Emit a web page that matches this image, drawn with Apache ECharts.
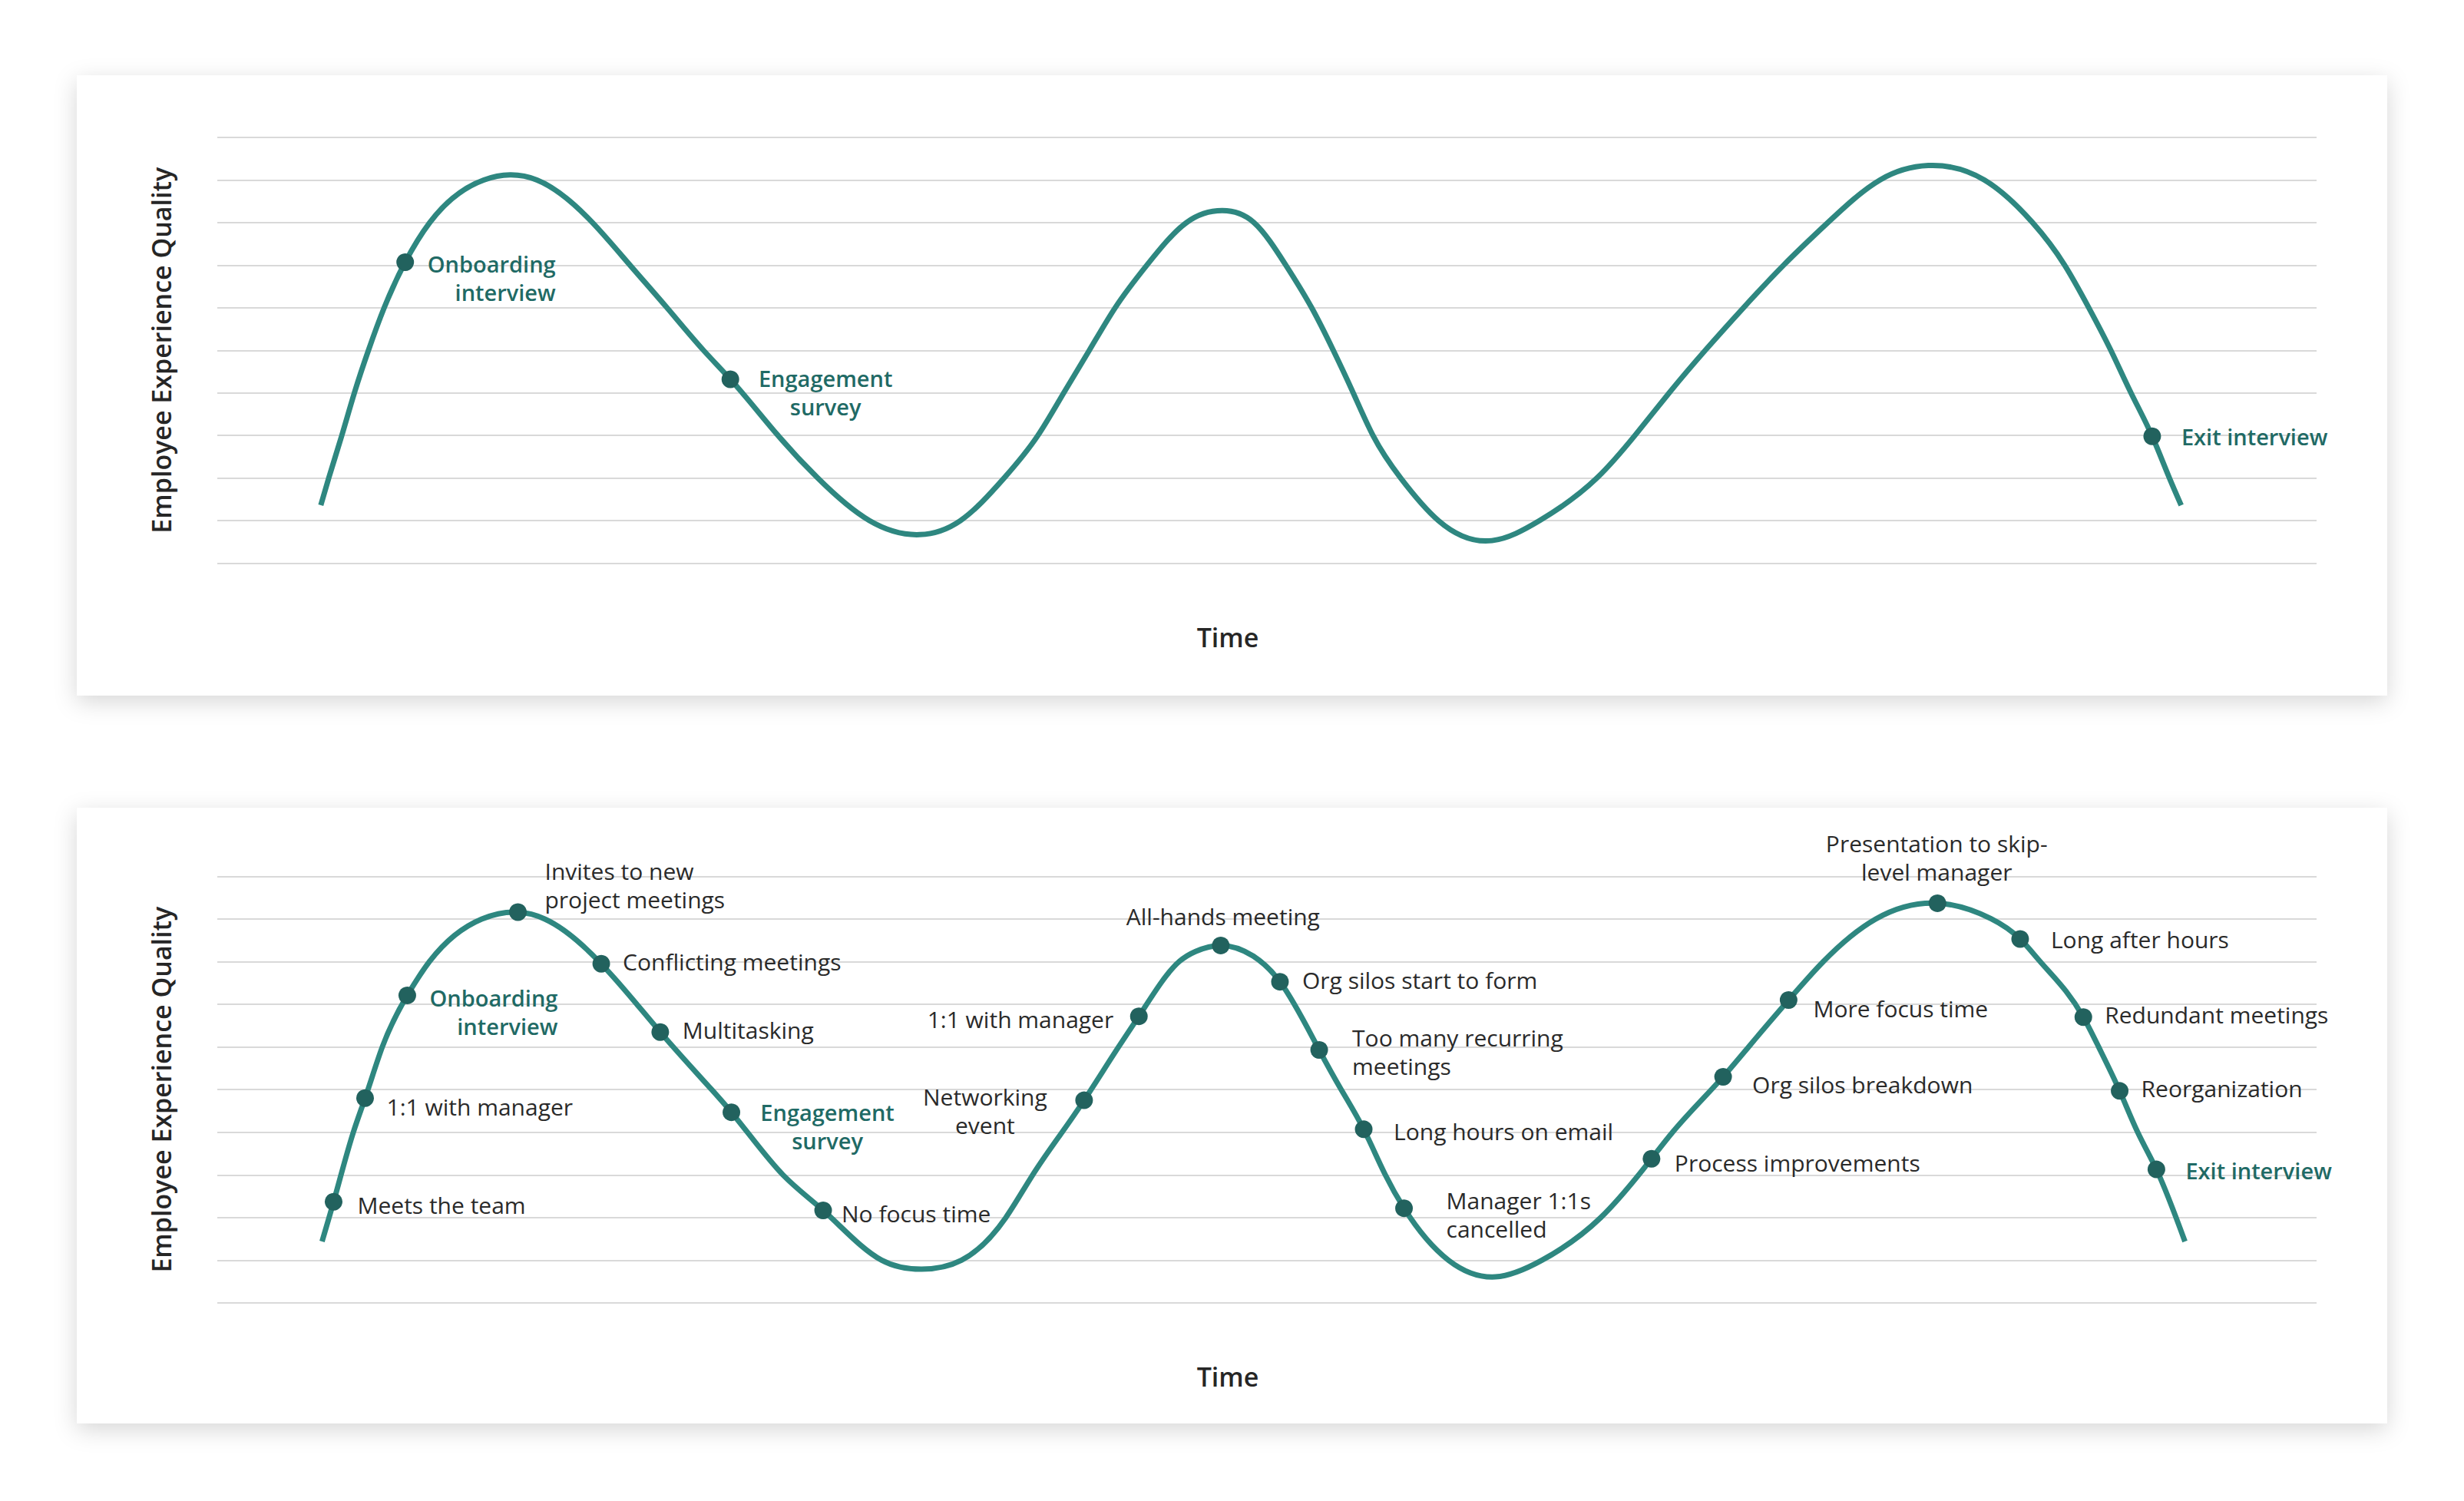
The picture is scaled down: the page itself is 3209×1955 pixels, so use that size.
<!DOCTYPE html>
<html>
<head>
<meta charset="utf-8">
<script src="https://cdn.jsdelivr.net/npm/echarts@6/dist/echarts.min.js"></script>
<style>
html,body{margin:0;padding:0;background:#ffffff;}
#chart{width:3209px;height:1955px;}
</style>
</head>
<body>
<div id="chart"></div>
<script>
// ---------------- DATA ----------------
// Top chart: curve (time 0-100, quality 0-10)
const topCurveX = [4.93,5.31,5.93,6.53,7.20,7.95,8.95,10.12,12.69,13.94,15.23,17.87,19.66,21.42,23.16,24.44,25.01,26.71,28.60,31.06,33.46,35.40,37.48,39.09,40.32,41.54,42.77,44.28,46.17,47.87,49.38,50.90,52.13,53.16,54.11,55.05,56.37,58.17,60.72,62.99,65.72,67.53,69.16,70.88,72.70,74.61,76.72,79.20,81.50,84.18,86.47,88.00,89.15,90.20,91.16,92.17,92.99,93.55];
const topCurveY = [1.36,2.00,3.00,4.00,5.00,6.00,7.07,8.00,9.00,9.12,9.00,8.00,7.00,6.00,5.00,4.32,4.00,3.00,2.00,1.00,0.67,1.00,2.00,3.00,4.00,5.00,6.00,7.00,8.00,8.28,8.00,7.00,6.00,5.00,4.00,3.00,2.00,1.00,0.53,1.00,2.00,3.00,4.00,5.00,6.00,7.00,8.00,9.00,9.34,9.00,8.00,7.00,6.00,5.00,4.00,2.98,2.00,1.36];
const topEventNames = ['Onboarding\ninterview','Engagement\nsurvey','Exit interview'];
const topEventX = [8.95,24.44,92.17];
const topEventY = [7.07,4.32,2.98];
const topEventKey = [true,true,true];

// Bottom chart: curve
const bottomCurveX = [4.99,5.54,6.48,7.04,7.86,9.05,10.12,12.60,14.32,15.60,18.29,19.97,21.10,23.55,24.49,26.95,28.86,31.65,33.56,35.45,37.56,38.84,40.24,41.29,42.93,43.90,45.84,46.60,47.80,49.35,50.62,52.49,53.54,54.61,55.64,56.53,58.65,60.88,63.10,65.90,68.32,69.32,71.73,72.94,74.85,76.50,79.00,81.94,84.48,85.88,86.82,88.89,89.62,90.62,91.48,92.37,93.73];
const bottomCurveY = [1.44,2.37,4.00,4.80,6.00,7.21,8.01,9.00,9.16,9.00,7.95,7.01,6.35,5.00,4.47,3.00,2.17,1.00,0.79,1.00,2.00,3.00,4.00,4.75,6.00,6.72,8.01,8.24,8.38,8.13,7.53,5.93,5.00,4.07,3.00,2.22,1.00,0.61,1.00,2.00,3.38,4.00,5.30,6.00,7.10,8.00,9.00,9.37,9.01,8.53,8.01,6.70,6.00,4.97,4.00,3.13,1.44];
const bottomEventNames = ['Meets the team','1:1 with manager','Onboarding\ninterview','Invites to new\nproject meetings','Conflicting meetings','Multitasking','Engagement\nsurvey','No focus time','Networking\nevent','1:1 with manager','All-hands meeting','Org silos start to form','Too many recurring\nmeetings','Long hours on email','Manager 1:1s\ncancelled','Process improvements','Org silos breakdown','More focus time','Presentation to skip-\nlevel manager','Long after hours','Redundant meetings','Reorganization','Exit interview'];
const bottomEventX = [5.54,7.04,9.05,14.32,18.29,21.10,24.49,28.86,41.29,43.90,47.80,50.62,52.49,54.61,56.53,68.32,71.73,74.85,81.94,85.88,88.89,90.62,92.37];
const bottomEventY = [2.37,4.80,7.21,9.16,7.95,6.35,4.47,2.17,4.75,6.72,8.38,7.53,5.93,4.07,2.22,3.38,5.30,7.10,9.37,8.53,6.70,4.97,3.13];
const bottomEventKey = [false,false,true,false,false,false,true,false,false,false,false,false,false,false,false,false,false,false,false,false,false,false,true];

const yAxisTitle = 'Employee Experience Quality';
const xAxisTitle = 'Time';

// ---------------- STYLE (label placement relative to each dot) ----------------
const topLabelPlace = [
  {dx:196, dy:21, align:'right'},
  {dx:124, dy:17, align:'center'},
  {dx:38, dy:0, align:'left'}
];
const bottomLabelPlace = [
  {dx:31, dy:4, align:'left'},
  {dx:28, dy:11, align:'left'},
  {dx:196, dy:22, align:'right'},
  {dx:35, dy:-35, align:'left'},
  {dx:28, dy:-3, align:'left'},
  {dx:29, dy:-3, align:'left'},
  {dx:125, dy:18, align:'center'},
  {dx:24, dy:4, align:'left'},
  {dx:-129, dy:14, align:'center'},
  {dx:-33, dy:4, align:'right'},
  {dx:3, dy:-38, align:'center'},
  {dx:29, dy:-2, align:'left'},
  {dx:43, dy:2, align:'left'},
  {dx:39, dy:3, align:'left'},
  {dx:55, dy:8, align:'left'},
  {dx:30, dy:5, align:'left'},
  {dx:38, dy:10, align:'left'},
  {dx:32, dy:11, align:'left'},
  {dx:-1, dy:-59, align:'center'},
  {dx:40, dy:0, align:'left'},
  {dx:28, dy:-3, align:'left'},
  {dx:28, dy:-3, align:'left'},
  {dx:38, dy:1, align:'left'}
];

const FONT = '"Open Sans", "Noto Sans", "DejaVu Sans", sans-serif';
const LINE_COLOR = '#2e8780';
const DOT_COLOR = '#22625e';
const KEY_TEXT = '#1f6a65';
const TEXT = '#2a2a2a';
const GRID_COLOR = '#d9d9d9';

function zip(xs, ys){ return xs.map((x,i)=>[x, ys[i]]); }

// Natural cubic spline (y as a function of x) through pixel points given by api.coord,
// emitted as exact cubic Bezier segments.
function splinePath(p){
  const n = p.length;
  const X = p.map(q=>q[0]), Y = p.map(q=>q[1]);
  const h = [];
  for (let i = 0; i < n-1; i++) h.push(X[i+1]-X[i]);
  const M = new Array(n).fill(0);
  if (n > 2){
    const m = n-2, a = [], b = [], c = [], r = [];
    for (let i = 1; i <= m; i++){
      a.push(h[i-1]); b.push(2*(h[i-1]+h[i])); c.push(h[i]);
      r.push(6*((Y[i+1]-Y[i])/h[i] - (Y[i]-Y[i-1])/h[i-1]));
    }
    for (let i = 1; i < m; i++){ const w = a[i]/b[i-1]; b[i] -= w*c[i-1]; r[i] -= w*r[i-1]; }
    const s = new Array(m);
    s[m-1] = r[m-1]/b[m-1];
    for (let i = m-2; i >= 0; i--) s[i] = (r[i] - c[i]*s[i+1])/b[i];
    for (let i = 0; i < m; i++) M[i+1] = s[i];
  }
  let d = 'M' + X[0].toFixed(2) + ' ' + Y[0].toFixed(2);
  for (let i = 0; i < n-1; i++){
    const hi = h[i], sl = (Y[i+1]-Y[i])/hi;
    const d0 = sl - hi*(2*M[i] + M[i+1])/6;
    const d1 = sl + hi*(M[i] + 2*M[i+1])/6;
    const c1x = X[i] + hi/3, c1y = Y[i] + d0*hi/3;
    const c2x = X[i+1] - hi/3, c2y = Y[i+1] - d1*hi/3;
    d += ' C' + c1x.toFixed(2) + ' ' + c1y.toFixed(2) + ' ' + c2x.toFixed(2) + ' ' + c2y.toFixed(2) + ' ' + X[i+1].toFixed(2) + ' ' + Y[i+1].toFixed(2);
  }
  return d;
}

function curveSeries(xs, ys, idx){
  return {
    type:'custom', xAxisIndex:idx, yAxisIndex:idx, z:2, silent:true,
    data: zip(xs, ys),
    encode:{x:0, y:1},
    renderItem: function(params, api){
      if (params.dataIndex !== 0) return null;
      const pts = xs.map((x,i)=>api.coord([x, ys[i]]));
      return {
        type:'path',
        shape:{pathData: splinePath(pts)},
        style:{fill:null, stroke:LINE_COLOR, lineWidth:7, lineCap:'butt', lineJoin:'round'}
      };
    }
  };
}

function eventData(names, xs, ys, keys, places){
  return names.map((n,i)=>({
    value:[xs[i], ys[i]],
    label:{
      show:true,
      formatter:n,
      position:'inside',
      offset:[places[i].dx, places[i].dy],
      align:places[i].align,
      verticalAlign:'middle',
      color: keys[i] ? KEY_TEXT : TEXT,
      fontWeight: keys[i] ? 600 : 400,
      fontSize: keys[i] ? 29 : 30,
      lineHeight: 37,
      fontFamily: FONT
    }
  }));
}

function makeX(idx){
  return {
    type:'value', gridIndex:idx, min:0, max:100,
    axisLine:{show:false}, axisTick:{show:false}, axisLabel:{show:false}, splitLine:{show:false},
    name:xAxisTitle, nameLocation:'middle', nameGap:79,
    nameTextStyle:{fontSize:34, fontWeight:600, color:'#262626', fontFamily:FONT, padding:[0,102,0,0]}
  };
}
function makeY(idx){
  return {
    type:'value', gridIndex:idx, min:0, max:10, interval:1,
    axisLine:{show:false}, axisTick:{show:false}, axisLabel:{show:false},
    splitLine:{show:true, lineStyle:{color:GRID_COLOR, width:2}},
    name:yAxisTitle, nameLocation:'middle', nameGap:56,
    nameTextStyle:{fontSize:34, fontWeight:600, color:'#262626', fontFamily:FONT}
  };
}

const chart = echarts.init(document.getElementById('chart'), null, {renderer:'svg', width:3209, height:1955});

const option = {
  animation:false,
  backgroundColor:'#ffffff',
  graphic:[
    {type:'rect', z:-100, silent:true, shape:{x:100, y:98, width:3009, height:808},
     style:{fill:'#ffffff', shadowBlur:30, shadowOffsetY:8, shadowColor:'rgba(0,0,0,0.16)'}},
    {type:'rect', z:-100, silent:true, shape:{x:100, y:1052, width:3009, height:802},
     style:{fill:'#ffffff', shadowBlur:30, shadowOffsetY:8, shadowColor:'rgba(0,0,0,0.16)'}}
  ],
  grid:[
    {left:283, width:2734, top:179, height:554.5},
    {left:283, width:2734, top:1141.4, height:555.6}
  ],
  xAxis:[makeX(0), makeX(1)],
  yAxis:[makeY(0), makeY(1)],
  series:[
    curveSeries(topCurveX, topCurveY, 0),
    {type:'scatter', xAxisIndex:0, yAxisIndex:0, symbolSize:23,
     itemStyle:{color:DOT_COLOR, opacity:1}, z:3,
     data:eventData(topEventNames, topEventX, topEventY, topEventKey, topLabelPlace)},
    curveSeries(bottomCurveX, bottomCurveY, 1),
    {type:'scatter', xAxisIndex:1, yAxisIndex:1, symbolSize:23,
     itemStyle:{color:DOT_COLOR, opacity:1}, z:3,
     data:eventData(bottomEventNames, bottomEventX, bottomEventY, bottomEventKey, bottomLabelPlace)}
  ]
};
chart.setOption(option);
</script>
</body>
</html>
